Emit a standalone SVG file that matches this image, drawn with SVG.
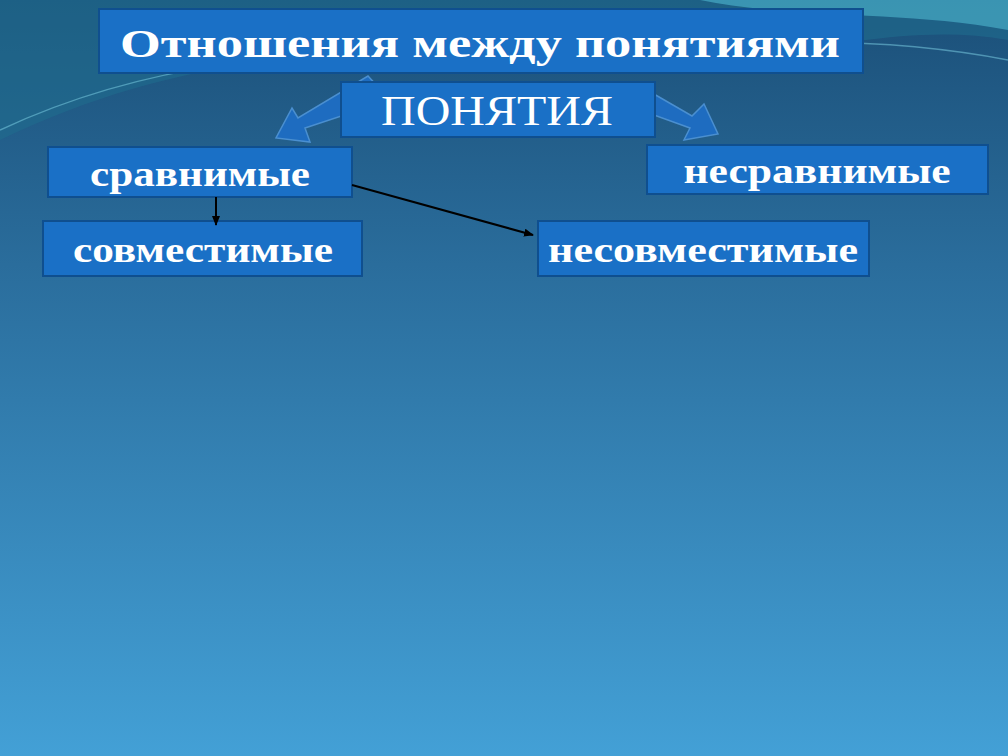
<svg xmlns="http://www.w3.org/2000/svg" width="1008" height="756" viewBox="0 0 1008 756">
<defs>
<linearGradient id="bg" x1="0" y1="0" x2="0" y2="1">
<stop offset="0" stop-color="#1b4f78"/>
<stop offset="0.35" stop-color="#2a6d9c"/>
<stop offset="1" stop-color="#43a0d6"/>
</linearGradient>
<marker id="ah" markerWidth="10" markerHeight="8" refX="9" refY="4" orient="auto" markerUnits="userSpaceOnUse"><path d="M0,0 L10,4 L0,8 z" fill="#000"/></marker>
<style>
.box{fill:#1a70c6;stroke:#0f4f8f;stroke-width:2}
.t{font-family:"Liberation Serif",serif;fill:#fff;font-weight:bold;text-anchor:middle}
.blk{fill:#1e6cc0;stroke:#4a8fd0;stroke-width:1.5}
</style>
</defs>
<rect width="1008" height="756" fill="url(#bg)"/>
<path d="M0,0 H1008 V40 C900,20 800,60 650,60 C450,60 250,20 0,140 Z" fill="#1f6c8e" opacity="0.6"/>
<path d="M0,130 C150,60 300,50 450,55 C620,60 800,20 1008,60" fill="none" stroke="#7fd3e8" stroke-width="1.5" opacity="0.5"/>
<path d="M700,0 C800,20 900,10 1008,30 V0 Z" fill="#4fb8d0" opacity="0.6"/>
<g id="arrows-block">
<path class="blk" d="M368,76 L390,100 L305,128 L310,142 L276,138 L292,108 L298,118 Z"/>
<path class="blk" d="M640,86 L692,116 L704,104 L718,134 L684,140 L690,128 L640,110 Z"/>
</g>
<g id="title"><rect class="box" x="99" y="9" width="764" height="64"/><text class="t" x="480" y="57" font-size="40" textLength="720" lengthAdjust="spacingAndGlyphs">Отношения между понятиями</text></g>
<g id="ponyatiya"><rect class="box" x="341" y="82" width="314" height="55"/><text class="t" x="497" y="125" font-size="42" style="font-weight:normal" textLength="232" lengthAdjust="spacingAndGlyphs">ПОНЯТИЯ</text></g>
<g id="sravnimye"><rect class="box" x="48" y="147" width="304" height="50"/><text class="t" x="200" y="186" font-size="36" textLength="220" lengthAdjust="spacingAndGlyphs">сравнимые</text></g>
<g id="nesravnimye"><rect class="box" x="647" y="145" width="341" height="49"/><text class="t" x="817" y="183" font-size="36" textLength="267" lengthAdjust="spacingAndGlyphs">несравнимые</text></g>
<g id="sovmestimye"><rect class="box" x="43" y="221" width="319" height="55"/><text class="t" x="203" y="262" font-size="36" textLength="260" lengthAdjust="spacingAndGlyphs">совместимые</text></g>
<g id="nesovmestimye"><rect class="box" x="538" y="221" width="331" height="55"/><text class="t" x="703" y="262" font-size="36" textLength="310" lengthAdjust="spacingAndGlyphs">несовместимые</text></g>
<g id="connectors" stroke="#000" stroke-width="2" fill="none">
<line x1="216" y1="197" x2="216" y2="225" marker-end="url(#ah)"/>
<line x1="352" y1="185" x2="533" y2="235" marker-end="url(#ah)"/>
</g>
</svg>
